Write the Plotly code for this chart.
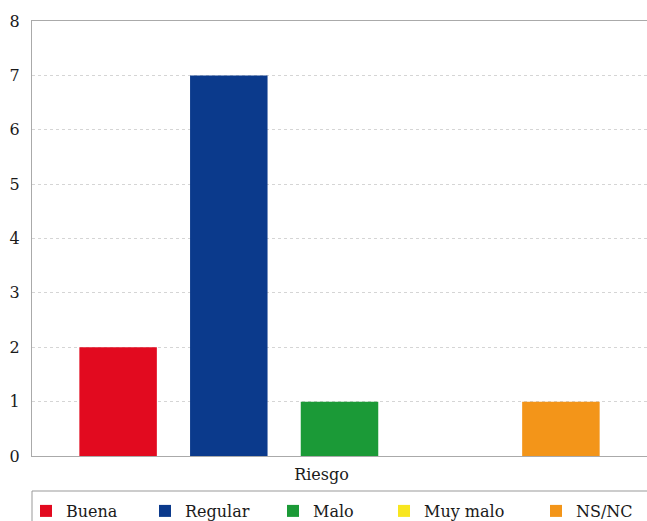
import plotly.graph_objects as go

categories = ["Riesgo"]
series_names = ["Buena", "Regular", "Malo", "Muy malo", "NS/NC"]
series_values = [[2], [7], [1], [0], [1]]
series_colors = ["#E20A1F", "#0B3A8C", "#1B9A37", "#F8E61F", "#F39519"]
y_ticks = [0, 1, 2, 3, 4, 5, 6, 7, 8]
legend_text_x = [66, 185, 313, 424, 576]  # approx px of legend text starts

FONT = "DejaVu Serif"
W, H = 647, 521

fig = go.Figure()
layout_legends = {}
for i, (name, vals, col) in enumerate(zip(series_names, series_values, series_colors)):
    lg = "legend" if i == 0 else f"legend{i+1}"
    fig.add_trace(go.Bar(x=categories, y=vals, name=name, marker_color=col,
                         marker_line_width=0, legend=lg))
    layout_legends[lg] = dict(
        orientation="h", xref="container", yref="container",
        x=(legend_text_x[i] - 40) / W, xanchor="left",
        y=(H - 494) / H, yanchor="top",
        bgcolor="rgba(0,0,0,0)", borderwidth=0,
        font=dict(family=FONT, size=16, color="#1a1a1a"), itemwidth=30)

fig.update_layout(
    width=W, height=H,
    margin=dict(l=32, r=0, t=21, b=65, autoexpand=False),
    barmode="group", bargap=0.1, bargroupgap=0.3,
    plot_bgcolor="white", paper_bgcolor="white",
    font=dict(family=FONT, size=15, color="#1a1a1a"),
    showlegend=True,
    shapes=[dict(type="rect", xref="paper", yref="paper", x0=0, x1=1.2,
                 y0=-(491 - 456) / 435, y1=-0.3, line=dict(color="#999", width=1),
                 fillcolor="rgba(0,0,0,0)", layer="below")],
    **layout_legends,
)
fig.update_xaxes(showline=True, mirror=True, linecolor="#aaa", linewidth=1,
                 showgrid=False, ticks="", tickfont=dict(size=16),
                 ticklabelstandoff=4, ticklabelshift=-18)
fig.update_yaxes(range=[0, 8], tickvals=y_ticks, showline=True, linecolor="#aaa",
                 linewidth=1, showgrid=True, gridcolor="#d5d5d5", griddash="dot",
                 zeroline=False, ticks="", tickfont=dict(size=16),
                 ticklabelstandoff=8)

fig.write_html("out.html")
